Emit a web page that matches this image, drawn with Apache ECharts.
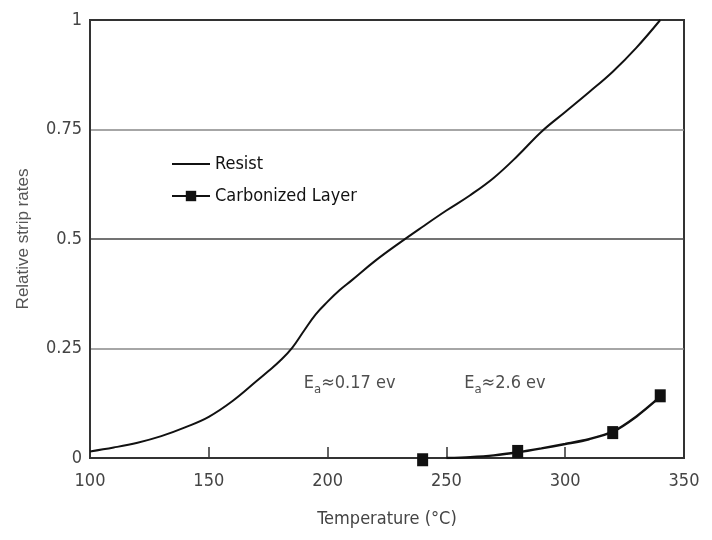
<!DOCTYPE html>
<html><head><meta charset="utf-8">
<script src="https://cdn.jsdelivr.net/npm/echarts@6/dist/echarts.min.js"></script>
<style>html,body{margin:0;padding:0;background:#fff}#c{width:712px;height:540px}</style>
</head><body><div id="c"></div>
<script>
// Resist curve (temperature °C, relative rate)
const resistT = [100,110,120,130,140,150,160,170,175,180,185,190,195,200,205,210,220,230,240,250,260,270,280,290,300,310,320,330,340];
const resistV = [0.015,0.024,0.035,0.05,0.07,0.094,0.13,0.175,0.198,0.222,0.251,0.29,0.328,0.357,0.383,0.405,0.45,0.49,0.528,0.565,0.6,0.64,0.69,0.745,0.79,0.835,0.882,0.937,1.0];
// Carbonized layer: measured points
const carbPtsT = [240,280,320,340];
const carbPtsV = [-0.004,0.015,0.058,0.142];
// Carbonized layer: fitted line
const carbLineT = [250,260,270,280,290,300,310,320,330,340];
const carbLineV = [0.0,0.002,0.006,0.013,0.022,0.032,0.043,0.06,0.095,0.14];
const xTicks = [100,150,200,250,300,350];
const yTicks = [0,0.25,0.5,0.75,1];
const annotations = [{x:190,y:0.17,val:'0.17 ev'},{x:257.5,y:0.17,val:'2.6 ev'}];

const FONT = '"Liberation Sans Narrow","DejaVu Sans Condensed","Roboto",sans-serif';

const chart = echarts.init(document.getElementById('c'));
chart.setOption({
  backgroundColor:'#fff',
  animation:false,
  grid:{left:90,right:28,top:20,bottom:82,show:true,borderColor:'#333',borderWidth:2,backgroundColor:'transparent'},
  legend:{
    data:[{name:'Resist', itemStyle:{opacity:0}},{name:'Carbonized Layer'}],
    orient:'vertical', left:166, top:150, itemGap:14, itemWidth:38, itemHeight:13,
    textStyle:{fontFamily:FONT,fontSize:18,color:'#111'}
  },
  xAxis:{
    type:'value', min:100, max:350, interval:50,
    axisLine:{show:true,lineStyle:{color:'#333',width:2}},
    axisTick:{show:true,inside:true,length:11,lineStyle:{color:'#333',width:1.5}},
    axisLabel:{fontFamily:FONT,fontSize:18,color:'#444',margin:14},
    splitLine:{show:false},
    name:'Temperature (°C)', nameLocation:'middle', nameGap:52,
    nameTextStyle:{fontFamily:FONT,fontSize:18,color:'#444'}
  },
  yAxis:{
    type:'value', min:0, max:1, interval:0.25,
    axisLine:{show:true,lineStyle:{color:'#333',width:2}},
    axisTick:{show:false},
    axisLabel:{fontFamily:FONT,fontSize:18,color:'#444',margin:8,formatter:v=>String(v)},
    splitLine:{show:true,lineStyle:{color:['#333','#888','#444','#888','#333'],width:1.5}},
    name:'Relative strip rates', nameLocation:'middle', nameGap:58,
    nameTextStyle:{fontFamily:'"Liberation Sans","DejaVu Sans",sans-serif',fontSize:17,color:'#555'}
  },
  series:[
    {name:'Resist', type:'line', smooth:0.4, symbol:'none',
     lineStyle:{color:'#111',width:2}, itemStyle:{color:'#111'},
     data: resistT.map((t,i)=>[t,resistV[i]])},
    {name:'Carbonized Layer', type:'line', smooth:0.3, symbol:'rect', symbolSize:[11,13],
     lineStyle:{color:'#111',width:2.5}, itemStyle:{color:'#111'},
     data: carbLineT.map((t,i)=>({value:[t,carbLineV[i]], symbol:'none'}))},
    {name:'Carbonized Layer', type:'scatter', symbol:'rect', symbolSize:[11,13], clip:false,
     itemStyle:{color:'#111',opacity:1}, data: carbPtsT.map((t,i)=>[t,carbPtsV[i]]), z:5},
    {name:'ann', type:'scatter', symbolSize:0, silent:true,
     data: annotations.map(a=>({value:[a.x,a.y],val:a.val})),
     label:{show:true, position:'right', distance:0,
       formatter:p=>'{e|E}{s|a}{t|≈'+p.data.val+'}',
       rich:{
         e:{fontFamily:FONT,fontSize:18,color:'#222'},
         s:{fontFamily:FONT,fontSize:13,color:'#222',verticalAlign:'bottom',padding:[12,0,0,0]},
         t:{fontFamily:FONT,fontSize:18,color:'#222'}
       }}}
  ]
});
</script></body></html>
